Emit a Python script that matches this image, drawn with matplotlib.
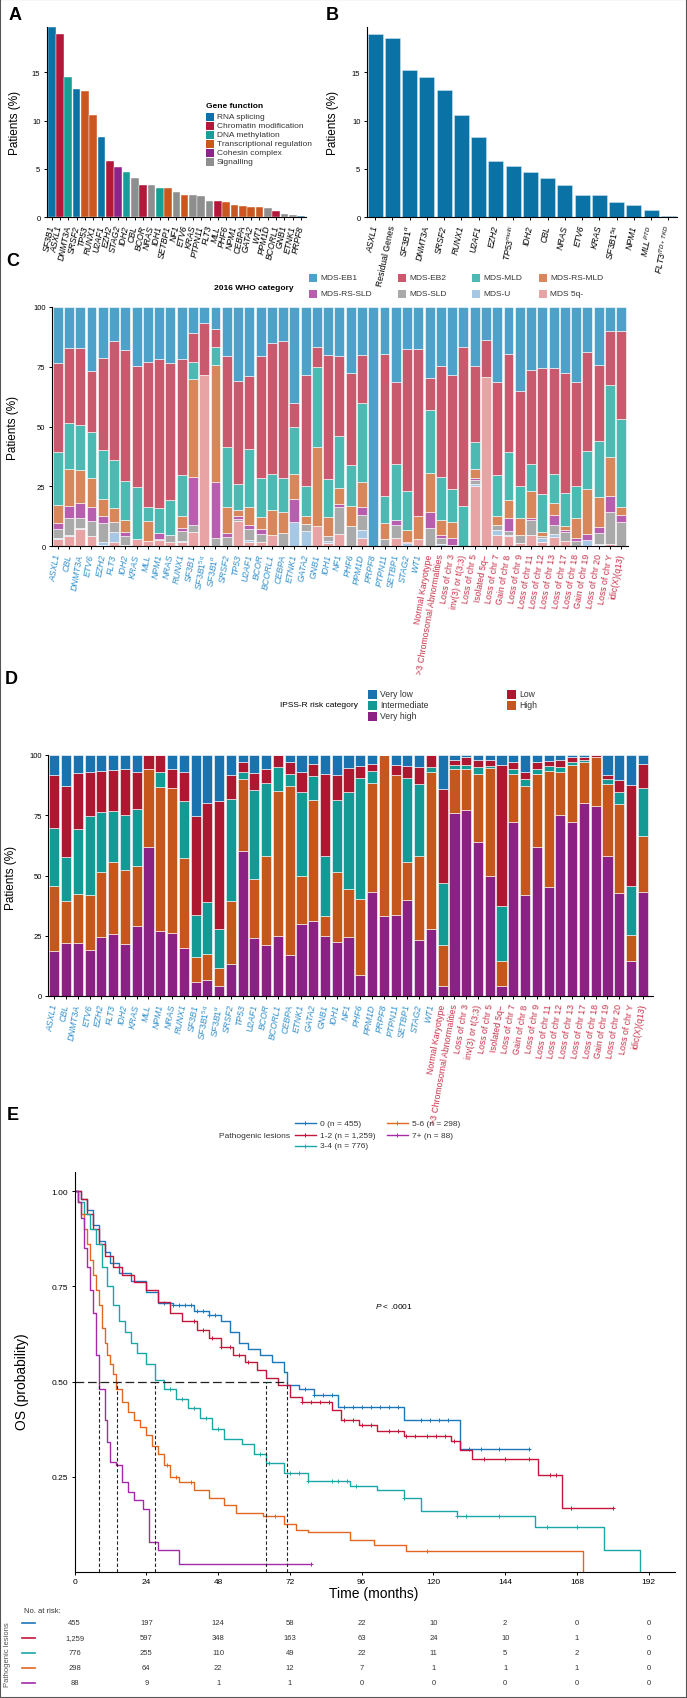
import numpy as np
import matplotlib
matplotlib.use("Agg")
import matplotlib.pyplot as plt
import matplotlib.transforms as mtransforms
from matplotlib.patches import Rectangle
from matplotlib.lines import Line2D

plt.rcParams["font.family"] = ["Liberation Sans", "DejaVu Sans"]
plt.rcParams["mathtext.fontset"] = "custom"
plt.rcParams["mathtext.it"] = "Liberation Sans:italic"
plt.rcParams["mathtext.rm"] = "Liberation Sans"
plt.rcParams["axes.linewidth"] = 0.8

W, H = 687, 1699

# ---------------- panel A: genes by function
a_genes = ["SF3B1", "ASXL1", "DNMT3A", "SRSF2", "TP53", "RUNX1", "U2AF1", "EZH2", "STAG2",
           "IDH2", "CBL", "BCOR", "NRAS", "IDH1", "SETBP1", "NF1", "ETV6", "KRAS", "PTPN11",
           "FLT3", "MLL", "PHF6", "NPM1", "CEBPA", "GATA2", "WT1", "PPM1D", "BCORL1", "GNB1",
           "ETNK1", "PRPF8"]
a_pct = [19.66, 18.97, 14.55, 13.24, 13.03, 10.62, 8.34, 5.79, 5.21, 4.69, 4.10, 3.38, 3.38,
         3.07, 3.07, 2.59, 2.28, 2.28, 2.17, 1.69, 1.69, 1.59, 1.28, 1.17, 1.07, 1.07, 0.97,
         0.69, 0.38, 0.28, 0.10]
a_func = ["RNA", "CHR", "DNA", "RNA", "TRX", "TRX", "RNA", "CHR", "COH", "DNA", "SIG", "CHR",
          "SIG", "DNA", "TRX", "SIG", "TRX", "SIG", "SIG", "SIG", "CHR", "TRX", "TRX", "TRX",
          "TRX", "TRX", "SIG", "CHR", "SIG", "SIG", "RNA"]
func_keys = ["RNA", "CHR", "DNA", "TRX", "COH", "SIG"]
func_names = ["RNA splicing", "Chromatin modification", "DNA methylation",
              "Transcriptional regulation", "Cohesin complex", "Signalling"]
func_colors = ["#0b72a6", "#b3183a", "#179f95", "#cc5620", "#8d2489", "#8e8e8e"]

# ---------------- panel B
b_labels = ["ASXL1", "Residual Genes", r"$\mathit{SF3B1}^{\alpha}$", "DNMT3A", "SRSF2", "RUNX1",
            "U2AF1", "EZH2", r"$\mathit{TP53}^{\mathit{multi}}$", "IDH2", "CBL", "NRAS", "ETV6",
            "KRAS", r"$\mathit{SF3B1}^{\mathit{5q}}$", "NPM1", r"$\mathit{MLL}^{\mathit{PTD}}$",
            r"$\mathit{FLT3}^{\mathit{ITD+TKD}}$"]
b_pct = [18.94, 18.53, 15.2, 14.5, 13.2, 10.6, 8.3, 5.8, 5.3, 4.66, 4.08, 3.39, 2.26, 2.26,
         1.58, 1.23, 0.75, 0.17]

# ---------------- panels C and D: shared x categories
cd_labels = ["ASXL1", "CBL", "DNMT3A", "ETV6", "EZH2", "FLT3", "IDH2", "KRAS", "MLL", "NPM1",
             "NRAS", "RUNX1", "SF3B1", r"$\mathit{SF3B1}^{\mathit{5q}}$", r"$\mathit{SF3B1}^{\alpha}$",
             "SRSF2", "TP53", "U2AF1", "BCOR", "BCORL1", "CEBPA", "ETNK1", "GATA2", "GNB1",
             "IDH1", "NF1", "PHF6", "PPM1D", "PRPF8", "PTPN11", "SETBP1", "STAG2", "WT1",
             "Normal Karyotype", ">3 Chromosomal Abnormalities", "Loss of chr 3",
             "inv(3) or t(3;3)", "Loss of chr 5", "Isolated 5q\u2212", "Loss of chr 7",
             "Gain of chr 8", "Loss of chr 9", "Loss of chr 11", "Loss of chr 12",
             "Loss of chr 13", "Loss of chr 17", "Loss of chr 18", "Gain of chr 19",
             "Loss of chr 20", "Loss of chr Y", "idic(X)(q13)"]
n_genes_cd = 33

# panel C: 2016 WHO category (% of patients)
c_eb1 = [23.4, 17.1, 17.3, 26.9, 21.5, 14.2, 18.0, 24.7, 23.0, 21.8, 23.4, 21.8, 10.7, 6.7, 9.3,
         20.6, 30.9, 28.7, 20.6, 15.1, 14.4, 40.0, 28.3, 16.7, 20.1, 20.3, 27.6, 20.2, 100.0,
         19.5, 31.2, 17.4, 17.6, 29.9, 24.7, 28.6, 16.7, 24.7, 13.7, 31.4, 19.8, 35.3, 26.4,
         25.4, 25.4, 27.5, 31.4, 18.7, 24.3, 10.2, 10.2]
c_eb2 = [37.4, 31.3, 32.1, 25.6, 38.2, 50.0, 55.0, 50.8, 60.6, 62.1, 57.5, 48.4, 12.3, 21.8, 7.4,
         37.9, 43.2, 30.6, 50.8, 54.8, 57.0, 10.0, 46.7, 8.4, 52.0, 33.8, 38.6, 19.9, 0.0,
         59.6, 34.6, 59.4, 69.9, 13.4, 46.5, 47.6, 66.7, 31.8, 15.7, 39.0, 41.0, 39.6, 39.4,
         52.9, 44.6, 50.4, 43.6, 41.7, 31.8, 22.5, 36.8]
c_mld = [22.2, 19.4, 18.7, 19.0, 20.6, 19.9, 16.0, 21.6, 6.0, 10.7, 14.3, 17.4, 7.1, 0.0, 7.6,
         25.2, 10.9, 24.4, 16.4, 15.1, 14.3, 19.9, 12.6, 33.4, 15.7, 21.6, 16.9, 33.3, 0.0,
         11.3, 23.3, 16.7, 0.0, 26.1, 18.0, 13.9, 16.6, 11.1, 0.0, 17.0, 20.1, 13.5, 11.0,
         15.8, 11.9, 13.8, 13.3, 15.8, 23.6, 30.2, 36.6]
c_rsmld = [7.3, 15.3, 13.9, 12.2, 7.3, 6.0, 5.3, 0.0, 8.4, 0.0, 0.0, 5.0, 41.2, 0.0, 48.9,
           10.9, 2.3, 7.5, 5.2, 10.2, 8.9, 10.3, 3.2, 33.3, 7.9, 6.7, 8.5, 10.2, 0.0,
           6.6, 0.0, 4.8, 9.5, 16.2, 6.4, 6.4, 0.0, 3.9, 0.0, 4.0, 7.3, 6.8, 11.3,
           1.8, 5.3, 1.8, 8.3, 18.6, 12.2, 16.2, 3.3]
c_rssld = [2.6, 5.0, 6.4, 5.9, 2.8, 0.0, 1.4, 0.0, 0.0, 2.6, 0.0, 1.1, 20.1, 0.0, 23.6,
           1.8, 1.2, 1.5, 2.0, 0.0, 0.0, 9.9, 0.0, 0.0, 0.0, 1.3, 0.0, 3.3, 0.0,
           0.0, 2.1, 0.6, 0.0, 7.0, 1.2, 2.9, 0.0, 0.9, 0.0, 0.0, 5.5, 0.0, 0.9,
           0.0, 4.0, 0.8, 1.1, 2.7, 2.7, 6.5, 3.2]
c_sld = [3.7, 7.1, 3.9, 6.1, 8.1, 3.9, 3.7, 0.0, 0.0, 0.4, 3.1, 4.0, 2.9, 0.0, 3.2,
         3.6, 1.0, 4.9, 3.2, 0.0, 5.4, 0.0, 3.1, 0.0, 2.0, 11.1, 8.4, 6.6, 0.0,
         3.0, 5.6, 0.0, 0.0, 7.4, 2.5, 0.6, 0.0, 1.7, 0.0, 2.1, 1.8, 3.4, 6.2,
         0.9, 3.8, 3.4, 2.3, 0.0, 4.5, 13.7, 9.9]
c_u = [0.5, 0.7, 0.6, 0.0, 1.2, 4.3, 0.0, 0.0, 0.0, 0.0, 0.0, 0.6, 0.0, 0.0, 0.0,
       0.0, 0.0, 0.6, 0.0, 0.0, 0.0, 9.9, 6.1, 0.0, 1.1, 0.0, 0.0, 3.3, 0.0,
       0.0, 0.0, 1.1, 0.0, 0.0, 0.7, 0.0, 0.0, 0.9, 0.0, 1.7, 0.4, 0.0, 0.0,
       1.7, 1.3, 0.0, 0.0, 2.5, 0.3, 0.0, 0.0]
c_5q = [2.9, 4.1, 7.1, 4.3, 0.3, 1.7, 0.6, 2.9, 2.0, 2.4, 1.7, 1.7, 5.7, 71.5, 0.0,
        0.0, 10.5, 1.8, 1.8, 4.8, 0.0, 0.0, 0.0, 8.2, 1.2, 5.2, 0.0, 3.2, 0.0,
        0.0, 3.2, 0.0, 3.0, 0.0, 0.0, 0.0, 0.0, 25.0, 70.6, 4.8, 4.1, 1.4, 4.8,
        1.5, 3.7, 2.3, 0.0, 0.0, 0.6, 0.7, 0.0]
c_names = ["MDS 5q-", "MDS-U", "MDS-SLD", "MDS-RS-SLD", "MDS-RS-MLD", "MDS-MLD", "MDS-EB2", "MDS-EB1"]
c_colors = ["#e8a4a4", "#a6c8e4", "#aaaaaa", "#b75fae", "#d8875a", "#4cb9b3", "#c95a6d", "#4ea2c9"]

# panel D: IPSS-R risk category (% of patients)
d_vh = [18.6, 21.8, 22.0, 19.2, 24.3, 25.9, 21.6, 29.1, 62.0, 26.9, 26.2, 19.8, 5.8, 6.6, 4.2,
        13.1, 60.0, 23.9, 21.3, 25.0, 17.1, 29.9, 31.2, 25.0, 22.5, 24.3, 8.6, 43.3, 33.3,
        33.7, 39.9, 23.3, 28.0, 4.2, 76.0, 77.0, 64.0, 49.6, 4.2, 72.0, 42.1, 62.0, 45.4,
        75.0, 72.0, 80.0, 79.0, 57.9, 42.7, 14.5, 43.3]
d_h = [27.0, 17.8, 20.4, 22.6, 27.2, 29.9, 30.5, 24.7, 32.0, 60.0, 60.0, 37.3, 10.2, 10.7, 7.4,
       26.5, 30.0, 24.6, 36.9, 60.0, 70.0, 19.9, 50.0, 8.2, 29.0, 20.3, 31.8, 45.0, 66.7,
       58.0, 15.7, 34.6, 65.0, 16.9, 18.0, 17.0, 28.0, 45.0, 10.3, 20.0, 45.0, 30.0, 48.0,
       18.0, 24.0, 17.0, 20.0, 30.0, 37.0, 10.9, 23.0]
d_int = [24.0, 17.9, 27.0, 33.0, 25.0, 21.0, 23.0, 24.0, 0.0, 6.0, 0.0, 24.0, 17.5, 21.7, 16.2,
         42.0, 3.0, 37.0, 30.0, 10.0, 5.0, 35.0, 10.0, 25.0, 30.0, 40.0, 50.0, 5.0, 0.0,
         0.0, 35.0, 30.0, 2.0, 25.7, 2.0, 2.0, 3.0, 1.0, 22.7, 2.0, 3.0, 2.0, 2.0,
         2.0, 1.0, 1.0, 0.0, 2.0, 5.0, 20.3, 20.0]
d_low = [22.0, 29.5, 23.0, 18.0, 17.0, 17.0, 19.0, 15.0, 6.0, 7.1, 8.0, 12.0, 41.0, 41.0, 53.0,
         10.0, 4.0, 7.0, 6.0, 5.0, 5.0, 8.0, 5.0, 34.0, 10.0, 10.0, 5.0, 3.0, 0.0,
         4.0, 5.0, 7.0, 5.0, 39.0, 2.0, 3.0, 3.0, 2.4, 58.8, 3.0, 3.0, 3.0, 2.3,
         3.0, 2.0, 1.0, 1.0, 2.0, 5.0, 42.0, 10.0]
d_vl = [8.4, 13.0, 7.6, 7.2, 6.5, 6.2, 5.9, 7.2, 0.0, 0.0, 5.8, 6.9, 25.5, 20.0, 19.2,
        8.4, 3.0, 7.5, 5.8, 0.0, 2.9, 7.2, 3.8, 7.8, 8.5, 5.4, 4.6, 3.7, 0.0,
        4.3, 4.4, 5.1, 0.0, 14.2, 2.0, 1.0, 2.0, 2.0, 4.0, 3.0, 6.9, 3.0, 2.3,
        2.0, 1.0, 1.0, 0.0, 8.1, 10.3, 12.3, 3.7]
d_names = ["Very high", "High", "Intermediate", "Low", "Very low"]
d_colors = ["#8b2182", "#c5561c", "#149a95", "#ae1730", "#1a72af"]

# ---------------- panel E: Kaplan-Meier OS by number of pathogenic lesions
km_labels = ["0 (n = 455)", "1-2 (n = 1,259)", "3-4 (n = 776)", "5-6 (n = 298)", "7+ (n = 88)"]
km_colors = ["#1c77b9", "#c3163a", "#1aa7a6", "#e2661f", "#a42aa8"]
km0_t = [0, 2, 4, 6, 8, 10, 12, 15, 19, 24, 28, 33, 40, 45, 49, 52, 55, 58, 62, 66, 70, 71, 75,
         80, 88, 110, 129, 152]
km0_s = [1.0, 0.98, 0.95, 0.91, 0.87, 0.84, 0.81, 0.785, 0.765, 0.735, 0.705, 0.70, 0.685,
         0.675, 0.66, 0.63, 0.60, 0.585, 0.57, 0.55, 0.525, 0.49, 0.48, 0.465, 0.432, 0.398,
         0.323, 0.323]
km1_t = [0, 2, 4, 6, 8, 10, 13, 16, 20, 24, 28, 32, 36, 41, 45, 49, 53, 57, 61, 64, 68, 72, 76,
         86, 89, 95, 101, 110, 126, 129, 133, 155, 163, 180]
km1_s = [1.0, 0.98, 0.94, 0.90, 0.86, 0.83, 0.80, 0.78, 0.76, 0.74, 0.71, 0.68, 0.66, 0.635,
         0.615, 0.59, 0.57, 0.55, 0.53, 0.51, 0.49, 0.46, 0.445, 0.425, 0.398, 0.387, 0.37,
         0.357, 0.343, 0.319, 0.296, 0.255, 0.169, 0.169]
km2_t = [0, 1, 3, 5, 7, 9, 11, 13, 15, 17, 19, 21, 24, 27, 30, 34, 38, 42, 46, 50, 56, 60, 64,
         70, 78, 92, 101, 110, 116, 128, 154, 177, 189]
km2_s = [1.0, 0.97, 0.94, 0.90, 0.86, 0.80, 0.75, 0.70, 0.66, 0.63, 0.60, 0.575, 0.545, 0.505,
         0.48, 0.455, 0.43, 0.405, 0.375, 0.35, 0.335, 0.31, 0.285, 0.26, 0.24, 0.227, 0.214,
         0.193, 0.159, 0.146, 0.119, 0.057, 0.0]
km3_t = [0, 1, 2, 3, 4, 5, 6, 7, 8, 9, 10, 11, 12, 13, 14, 16, 18, 20, 22, 24, 26, 28, 30, 32,
         35, 40, 45, 50, 54, 63, 70, 74, 78, 92, 100, 111, 170]
km3_s = [1.0, 0.97, 0.94, 0.90, 0.86, 0.82, 0.78, 0.74, 0.70, 0.64, 0.60, 0.57, 0.545, 0.52,
         0.48, 0.445, 0.42, 0.40, 0.38, 0.36, 0.33, 0.31, 0.28, 0.25, 0.235, 0.215, 0.195,
         0.175, 0.155, 0.146, 0.125, 0.11, 0.105, 0.084, 0.07, 0.054, 0.0]
km4_t = [0, 1, 2, 3, 4, 5, 6, 7, 8, 10, 11, 12, 14, 16, 18, 20, 23, 25, 28, 35, 79]
km4_s = [1.0, 0.97, 0.93, 0.85, 0.80, 0.74, 0.68, 0.57, 0.48, 0.40, 0.34, 0.29, 0.28, 0.235,
         0.21, 0.19, 0.166, 0.078, 0.057, 0.02, 0.02]
km0_cens = [30, 33, 35, 37, 39, 41, 43, 45, 47, 77, 80, 83, 86, 90, 93, 96, 99, 102, 105, 108,
            116, 119, 122, 125, 132, 136, 142, 152]
km1_cens = [40, 43, 46, 49, 52, 55, 58, 76, 79, 82, 85, 90, 93, 96, 99, 105, 108, 111, 114,
            118, 121, 124, 127, 137, 144, 152, 159, 161, 166, 180]
km2_cens = [32, 36, 40, 44, 48, 62, 65, 72, 75, 78, 86, 88, 91, 94, 110, 128, 131, 142, 158, 168]
km3_cens = [31, 34, 39, 64, 67, 118]
km4_cens = [79]
median_t = [71.1, 63.9, 27.0, 14.1, 8.1]
risk_times = [0, 24, 48, 72, 96, 120, 144, 168, 192]
risk_rows = [["455", "197", "124", "58", "22", "10", "2", "0", "0"],
             ["1,259", "597", "348", "163", "63", "24", "10", "1", "0"],
             ["776", "255", "110", "49", "22", "11", "5", "2", "0"],
             ["298", "64", "22", "12", "7", "1", "1", "1", "0"],
             ["88", "9", "1", "1", "0", "0", "0", "0", "0"]]

for arr in [c_eb1, c_eb2, c_mld, c_rsmld, c_rssld, c_sld, c_u, c_5q, d_vh, d_h, d_int, d_low, d_vl]:
    if len(arr) != len(cd_labels):
        raise ValueError("length mismatch")

fig = plt.figure(figsize=(W / 100, H / 100), dpi=100)


def fx(x):
    return x / W


def fy(y):
    return 1 - y / H


def add_ax(left, top, right, bottom):
    return fig.add_axes([left / W, 1 - bottom / H, (right - left) / W, (bottom - top) / H])


def style_ax(ax):
    ax.spines["top"].set_visible(False)
    ax.spines["right"].set_visible(False)
    ax.tick_params(axis="both", length=2.5, width=0.7, labelsize=5.5, pad=2)


def legend_patch(x, y, color, label, size=7, fs=5.5):
    fig.patches.append(Rectangle((fx(x), fy(y + size / 2)), size / W, size / H,
                                 transform=fig.transFigure, facecolor=color, edgecolor="none"))
    fig.text(fx(x + size + 3), fy(y), label, fontsize=fs, va="center", ha="left", color="#333333")


def set_xlabels(ax, labels, rotation, fs, italic_flags, colors=None):
    ax.set_xticks(range(len(labels)))
    ax.set_xticklabels(labels, rotation=rotation, ha="right", va="center",
                       rotation_mode="anchor", fontsize=fs)
    for i, t in enumerate(ax.get_xticklabels()):
        t.set_fontstyle("italic" if italic_flags[i] else "normal")
        if colors is not None:
            t.set_color(colors[i])


# ---------------- A
axA = add_ax(46.7, 27.8, 306, 218.3)
style_ax(axA)
colA = [func_colors[func_keys.index(f)] for f in a_func]
axA.bar(range(len(a_genes)), a_pct, width=0.92, color=colA, edgecolor="white", linewidth=0.3)
axA.set_xlim(-0.6, len(a_genes) - 0.4)
axA.set_ylim(0, 19.7)
axA.set_yticks([0, 5, 10, 15])
set_xlabels(axA, a_genes, 78, 6.2, [True] * len(a_genes))
axA.tick_params(axis="x", pad=3)
fig.text(fx(15), fy(123), "Patients (%)", rotation=90, fontsize=8.5, va="center", ha="center")
fig.text(fx(206), fy(106), "Gene function", fontsize=6, fontweight="bold", va="center")
for i, (nm, c) in enumerate(zip(func_names, func_colors)):
    legend_patch(206, 117.5 + i * 9, c, nm, size=8, fs=6)

# ---------------- B
axB = add_ax(366.7, 27.8, 677, 218.3)
style_ax(axB)
axB.bar(range(len(b_labels)), b_pct, width=0.87, color="#0b72a6", edgecolor="#cfe3ef", linewidth=0.4)
axB.set_xlim(-0.49, len(b_labels) - 0.5)
axB.set_ylim(0, 19.7)
axB.set_yticks([0, 5, 10, 15])
set_xlabels(axB, b_labels, 78, 6.2, [lab != "Residual Genes" for lab in b_labels])
axB.tick_params(axis="x", pad=3)
fig.text(fx(333), fy(123), "Patients (%)", rotation=90, fontsize=8.5, va="center", ha="center")

# ---------------- C
xcd = np.arange(len(cd_labels))
lab_colors = ["#2f8fcc"] * n_genes_cd + ["#c8324a"] * (len(cd_labels) - n_genes_cd)
italic_cd = [True] * n_genes_cd + [False] * (len(cd_labels) - n_genes_cd)

axC = add_ax(51.8, 308, 628, 547)
style_ax(axC)
bottom = np.zeros(len(cd_labels))
for vals, c in zip([c_5q, c_u, c_sld, c_rssld, c_rsmld, c_mld, c_eb2, c_eb1], c_colors):
    axC.bar(xcd, vals, bottom=bottom, width=0.88, color=c, edgecolor="white", linewidth=0.4)
    bottom += np.array(vals)
axC.set_xlim(-0.52, len(cd_labels) - 0.4)
axC.set_ylim(0, 100)
axC.set_yticks([0, 25, 50, 75, 100])
set_xlabels(axC, cd_labels, 80, 6.3, italic_cd, lab_colors)
axC.tick_params(axis="x", pad=3)
fig.text(fx(13), fy(428), "Patients (%)", rotation=90, fontsize=8.5, va="center", ha="center")
fig.text(fx(294), fy(289), "2016 WHO category", fontsize=6, fontweight="bold", va="center", ha="right")
c_leg_order = [7, 6, 5, 4, 3, 2, 1, 0]
c_leg_x = [309, 398, 472, 539]
for k, idx in enumerate(c_leg_order):
    legend_patch(c_leg_x[k % 4], 279 + (k // 4) * 16, c_colors[idx], c_names[idx], size=8, fs=6)

# ---------------- D
axD = add_ax(48, 756, 653, 997)
style_ax(axD)
bottom = np.zeros(len(cd_labels))
for vals, c in zip([d_vh, d_h, d_int, d_low, d_vl], d_colors):
    axD.bar(xcd, vals, bottom=bottom, width=0.86, color=c, edgecolor="white", linewidth=0.4)
    bottom += np.array(vals)
axD.set_xlim(-0.54, len(cd_labels) - 0.13)
axD.set_ylim(0, 100)
axD.set_yticks([0, 25, 50, 75, 100])
set_xlabels(axD, cd_labels, 80, 6.3, italic_cd, lab_colors)
axD.tick_params(axis="x", pad=3)
fig.text(fx(11), fy(878), "Patients (%)", rotation=90, fontsize=8.5, va="center", ha="center")
fig.text(fx(358), fy(706), "IPSS-R risk category", fontsize=6, va="center", ha="right")
d_leg = [(368, 695, 4), (507, 695, 3), (368, 706, 2), (507, 706, 1), (368, 717, 0)]
for x, y, idx in d_leg:
    legend_patch(x, y, d_colors[idx], d_names[idx], size=9, fs=6.2)

# ---------------- E
axE = add_ax(74.6, 1173, 675, 1573)
style_ax(axE)
axE.set_xlim(0, 200.8)
axE.set_ylim(0, 1.05)
km_t = [km0_t, km1_t, km2_t, km3_t, km4_t]
km_s = [km0_s, km1_s, km2_s, km3_s, km4_s]
km_c = [km0_cens, km1_cens, km2_cens, km3_cens, km4_cens]
for t, s, cens, col in zip(km_t, km_s, km_c, km_colors):
    t = np.array(t, float)
    s = np.array(s, float)
    axE.step(t, s, where="post", color=col, lw=1.0)
    cens = np.array(cens, float)
    ci = np.searchsorted(t, cens, side="right") - 1
    axE.plot(cens, s[ci], ls="none", marker="+", ms=3.5, mew=0.7, color=col)
axE.plot([0, max(median_t)], [0.5, 0.5], color="#222222", lw=0.9, dashes=(7, 3))
for m in median_t:
    axE.plot([m, m], [0, 0.5], color="#222222", lw=0.8, dashes=(3, 2))
axE.set_xticks(risk_times)
axE.set_yticks([0.25, 0.5, 0.75, 1.0])
axE.set_yticklabels(["0.25", "0.50", "0.75", "1.00"])
axE.tick_params(labelsize=6)
axE.text(100.5, 0.70, r"$\mathit{P}$ < .0001", fontsize=6, va="center", ha="left")
fig.text(fx(22), fy(1382), "OS (probability)", rotation=90, fontsize=10, va="center", ha="center")
fig.text(fx(374), fy(1594), "Time (months)", fontsize=10, va="center", ha="center")

fig.text(fx(290), fy(1136), "Pathogenic lesions", fontsize=6, va="center", ha="right", color="#333333")
km_leg = [(295, 1124), (295, 1136), (295, 1147), (387, 1124), (387, 1136)]
for (x, y), lab, col in zip(km_leg, km_labels, km_colors):
    fig.lines.append(Line2D([fx(x), fx(x + 10), fx(x + 21)], [fy(y)] * 3,
                            transform=fig.transFigure, color=col, lw=1.0,
                            marker="+", markevery=[1], ms=3.5, mew=0.7))
    fig.text(fx(x + 25), fy(y), lab, fontsize=6, va="center", ha="left", color="#333333")

# risk table
blend = mtransforms.blended_transform_factory(axE.transData, fig.transFigure)
fig.text(fx(24), fy(1612), "No. at risk:", fontsize=5.5, va="center", ha="left", color="#333333")
row_y = [1624, 1639, 1654, 1669, 1684]
for row, y, col in zip(risk_rows, row_y, km_colors):
    fig.lines.append(Line2D([fx(22), fx(35)], [fy(y), fy(y)], transform=fig.transFigure, color=col, lw=1.2))
    for t, v in zip(risk_times, row):
        fig.text(t, fy(y), v, transform=blend, fontsize=5.5, va="center", ha="center", color="#333333")
fig.text(fx(8), fy(1655), "Pathogenic lesions", rotation=90, fontsize=5.5, va="center",
         ha="center", color="#555555")

# panel letters
for lab, x, y in [("A", 15, 15), ("B", 332, 15), ("C", 13, 262), ("D", 11, 680), ("E", 13, 1116)]:
    fig.text(fx(x), fy(y), lab, fontsize=13, fontweight="bold", va="center", ha="center")

fig.patches.append(Rectangle((0, 0), 1, 1, transform=fig.transFigure, fill=False,
                             edgecolor="#555555", linewidth=1.5))

fig.savefig("out.png", dpi=100)
